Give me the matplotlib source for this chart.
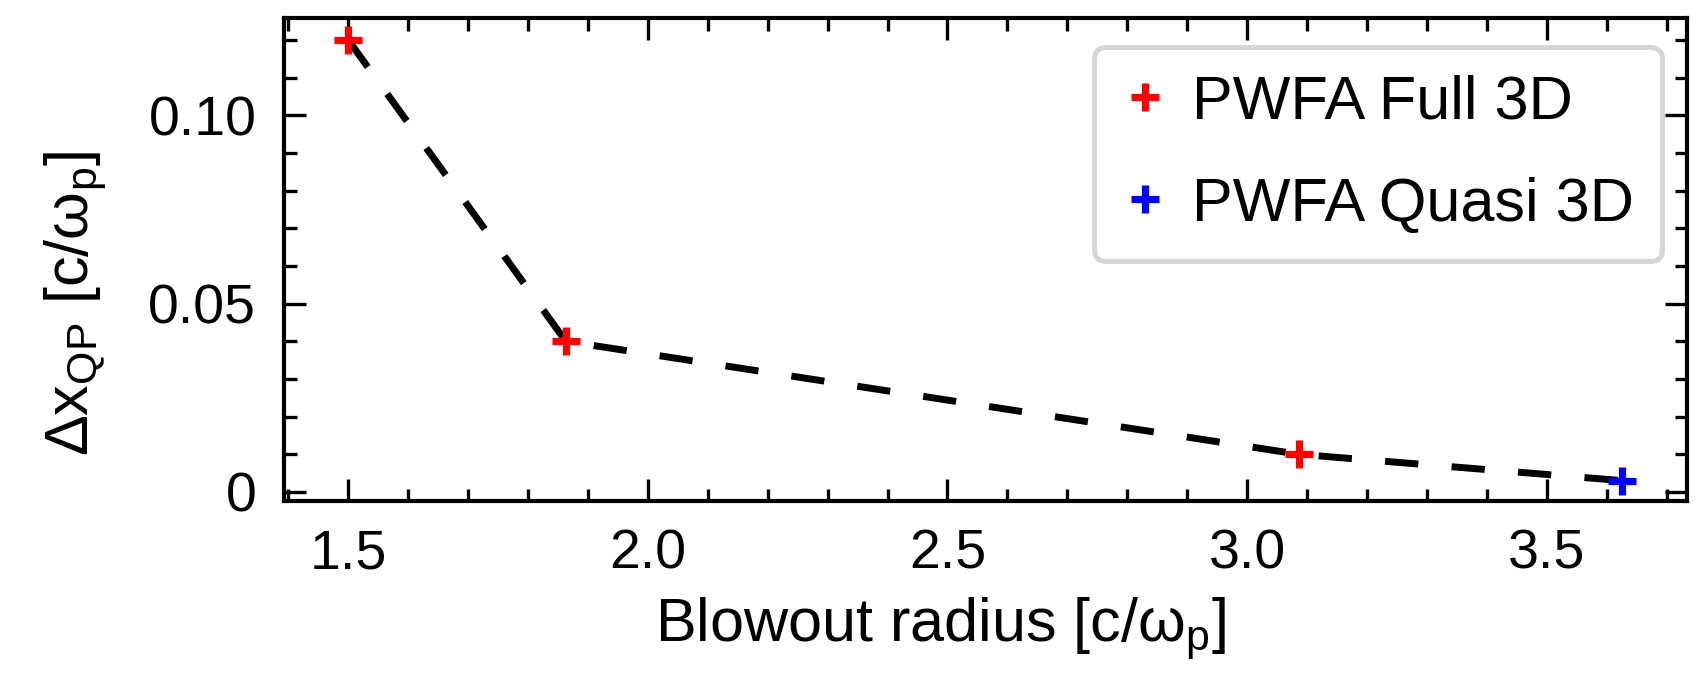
import matplotlib
matplotlib.use("Agg")
import matplotlib.pyplot as plt
from matplotlib.ticker import MultipleLocator, FixedLocator, FixedFormatter

# blowout radius [c/w_p] vs required transverse resolution
radius_full = [1.5, 1.863, 3.086]
dx_full = [0.12, 0.04, 0.01]
radius_quasi = [3.626]
dx_quasi = [0.003]

y_ticks = [0, 0.05, 0.10]
y_tick_labels = ["0", "0.05", "0.10"]

plt.rcParams["font.family"] = ["Liberation Sans", "DejaVu Sans"]
plt.rcParams["mathtext.fontset"] = "custom"
plt.rcParams["mathtext.rm"] = "Liberation Sans"
plt.rcParams["mathtext.it"] = "Liberation Sans"
plt.rcParams["mathtext.default"] = "regular"

fig = plt.figure(figsize=(8.48, 3.375), dpi=200)
ax = fig.add_axes([0.1675, 0.2578, 0.8272, 0.7155])

# dashed guide through every point, markers on top
ax.plot(radius_full + radius_quasi, dx_full + dx_quasi, color="black",
        lw=2.5, linestyle=(0, (4.8, 4.8)), zorder=2)
ax.plot(radius_full, dx_full, "+", color="red", ms=10, mew=2.6,
        linestyle="none", label="PWFA Full 3D", zorder=3)
ax.plot(radius_quasi, dx_quasi, "+", color="blue", ms=10, mew=2.6,
        linestyle="none", label="PWFA Quasi 3D", zorder=3)

ax.set_xlim(1.393, 3.734)
ax.set_ylim(-0.0024, 0.1258)

ax.xaxis.set_major_locator(MultipleLocator(0.5))
ax.xaxis.set_minor_locator(MultipleLocator(0.1))
ax.xaxis.set_major_formatter(matplotlib.ticker.FormatStrFormatter("%.1f"))
ax.yaxis.set_major_locator(FixedLocator(y_ticks))
ax.yaxis.set_major_formatter(FixedFormatter(y_tick_labels))
ax.yaxis.set_minor_locator(MultipleLocator(0.01))

ax.tick_params(which="both", direction="in", top=True, right=True,
               labelsize=20, width=1.2)
ax.tick_params(which="major", length=8, pad=10)
ax.tick_params(which="minor", length=4.5)
for s in ax.spines.values():
    s.set_linewidth(1.5)

ax.set_xlabel(r"Blowout radius [c/$\omega_{p}$]", fontsize=22)
ax.set_ylabel(r"$\Delta x_{QP}$ [c/$\omega_{p}$]", fontsize=22)
ax.xaxis.set_label_coords(0.468, -0.195)
ax.yaxis.set_label_coords(-0.125, 0.41)

leg = ax.legend(loc="upper right", bbox_to_anchor=(0.982, 0.94),
                borderaxespad=0, fontsize=22, fancybox=True, framealpha=1,
                handletextpad=0.38, labelspacing=0.74, borderpad=0.45,
                handlelength=0.78)
leg.get_frame().set_edgecolor("#d6d6d6")
leg.get_frame().set_linewidth(1.8)

plt.savefig("out.png", dpi=200)
